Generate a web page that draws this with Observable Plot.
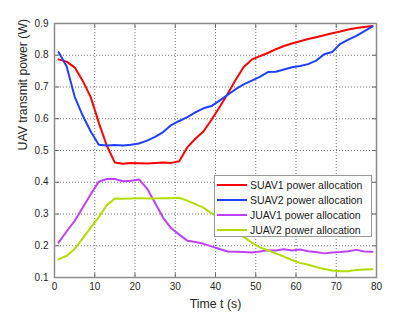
<!DOCTYPE html>
<html>
<head>
<meta charset="utf-8">
<script src="https://cdn.jsdelivr.net/npm/d3@7"></script>
<script src="https://cdn.jsdelivr.net/npm/@observablehq/plot@0.6"></script>
<style>
  html, body { margin: 0; padding: 0; background: #fff; }
  #wrap { position: relative; width: 415px; height: 315px; font-family: "Liberation Sans", Arial, sans-serif; }
  #legend { position: absolute; left: 214px; top: 175px; width: 156px; height: 60px;
            background: #fff; border: 1.5px solid #999; }
  .row { position: absolute; left: 2px; height: 15px; display: flex; align-items: center; font-size: 10.5px; color: #1a1a1a; white-space: nowrap; }
  .sw { width: 30px; height: 2px; margin-right: 3px; }
</style>
</head>
<body>
<div id="wrap"></div>
<script>
const time = [1,3,5,7,9,11,13,15,17,19,21,23,25,27,29,31,33,35,37,39,41,43,45,47,49,51,53,55,57,59,61,63,65,67,69,71,73,75,77,79];
const suav1 = [0.787,0.780,0.762,0.720,0.668,0.588,0.515,0.462,0.458,0.461,0.460,0.459,0.461,0.462,0.461,0.466,0.510,0.537,0.560,0.597,0.636,0.678,0.722,0.763,0.786,0.797,0.807,0.819,0.829,0.837,0.844,0.851,0.857,0.863,0.869,0.875,0.881,0.886,0.889,0.892];
const suav2 = [0.810,0.765,0.670,0.610,0.560,0.518,0.516,0.517,0.516,0.518,0.522,0.531,0.543,0.558,0.580,0.593,0.605,0.620,0.633,0.640,0.657,0.675,0.693,0.708,0.720,0.732,0.747,0.748,0.755,0.762,0.766,0.772,0.783,0.803,0.810,0.836,0.849,0.861,0.876,0.891];
const juav1 = [0.210,0.245,0.278,0.320,0.362,0.402,0.410,0.410,0.403,0.405,0.409,0.380,0.335,0.288,0.255,0.235,0.216,0.212,0.206,0.198,0.190,0.182,0.181,0.180,0.179,0.182,0.186,0.185,0.189,0.185,0.188,0.183,0.180,0.176,0.179,0.180,0.183,0.187,0.182,0.181];
const juav2 = [0.157,0.168,0.190,0.223,0.257,0.290,0.328,0.349,0.348,0.349,0.350,0.349,0.349,0.350,0.350,0.351,0.342,0.331,0.320,0.303,0.285,0.265,0.245,0.228,0.210,0.195,0.186,0.176,0.166,0.155,0.146,0.140,0.133,0.127,0.122,0.120,0.120,0.124,0.125,0.126];
const seriesNames = ["SUAV1 power allocation","SUAV2 power allocation","JUAV1 power allocation","JUAV2 power allocation"];
const seriesColors = ["#ff0000","#2040ff","#bf40ff","#b3dd00"];
const xTicks = [0,10,20,30,40,50,60,70,80];
const yTicks = [0.1,0.2,0.3,0.4,0.5,0.6,0.7,0.8,0.9];
const xLabel = "Time t (s)";
const yLabel = "UAV transmit power (W)";

const allSeries = [suav1, suav2, juav1, juav2];
const rows = [];
allSeries.forEach((vals, i) => vals.forEach((v, j) => rows.push({t: time[j], p: v, s: seriesNames[i]})));

const tickShape = {draw(ctx, l) { ctx.moveTo(0, 0); ctx.lineTo(0, -l); }};
const tickStyle = {shape: tickShape, length: 4, anchor: "start", stroke: "#666", strokeWidth: 1};

const chart = Plot.plot({
  width: 415, height: 315,
  marginLeft: 54, marginRight: 39, marginTop: 23, marginBottom: 38,
  style: {fontFamily: "'Liberation Sans', Arial, sans-serif", background: "#fff"},
  x: {domain: [0, 80]},
  y: {domain: [0.1, 0.9]},
  color: {domain: seriesNames, range: seriesColors},
  marks: [
    Plot.gridX(xTicks, {stroke: "#555", strokeOpacity: 0.8, strokeDasharray: "1,2"}),
    Plot.gridY(yTicks, {stroke: "#555", strokeOpacity: 0.8, strokeDasharray: "1,2"}),
    Plot.vector(xTicks, {x: d => d, y: 0.1, rotate: 0, ...tickStyle}),
    Plot.vector(xTicks, {x: d => d, y: 0.9, rotate: 180, ...tickStyle}),
    Plot.vector(yTicks, {y: d => d, x: 0, rotate: 90, ...tickStyle}),
    Plot.vector(yTicks, {y: d => d, x: 80, rotate: 270, ...tickStyle}),
    Plot.frame({stroke: "#8c8c8c", strokeWidth: 1.5}),
    Plot.axisX(xTicks, {tickSize: 0, tickPadding: 5, fontSize: 10, fill: "#262626", label: null}),
    Plot.axisY(yTicks, {tickSize: 0, tickPadding: 6, fontSize: 10, fill: "#262626", label: null, tickFormat: d3.format(".1f")}),
    Plot.line(rows, {x: "t", y: "p", z: "s", stroke: "s", strokeWidth: 2}),
    Plot.text([xLabel], {frameAnchor: "bottom", dy: 30, fontSize: 12.3, fill: "#262626", text: d => d}),
    Plot.text([yLabel], {frameAnchor: "left", dx: -31, rotate: -90, fontSize: 12.3, fill: "#262626", text: d => d})
  ]
});

const wrap = document.getElementById("wrap");
wrap.appendChild(chart);
const legend = document.createElement("div");
legend.id = "legend";
seriesNames.forEach((name, i) => {
  const r = document.createElement("div");
  r.className = "row";
  r.style.top = (1 + i * 15.2) + "px";
  const sw = document.createElement("div");
  sw.className = "sw";
  sw.style.background = seriesColors[i];
  const tx = document.createElement("span");
  tx.textContent = name;
  r.appendChild(sw); r.appendChild(tx);
  legend.appendChild(r);
});
wrap.appendChild(legend);
</script>
</body>
</html>
